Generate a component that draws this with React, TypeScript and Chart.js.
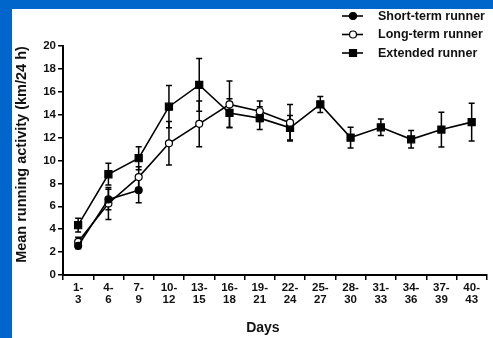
import React, { useEffect, useRef } from "react";
import { Chart, registerables } from "chart.js";

Chart.register(...registerables);

// ---- data ----
const categories = ["1-3", "4-6", "7-9", "10-12", "13-15", "16-18", "19-21", "22-24", "25-27", "28-30", "31-33", "34-36", "37-39", "40-43"];
const shortTerm = [2.55, 6.6, 7.4, null, null, null, null, null, null, null, null, null, null, null];
const shortErr = [0.25, 0.9, 1.1, null, null, null, null, null, null, null, null, null, null, null];
const longTerm = [2.9, 6.25, 8.55, 11.5, 13.2, 14.9, 14.3, 13.3, null, null, null, null, null, null];
const longErr = [0.4, 1.4, 0.9, 1.9, 2.0, 2.05, 0.9, 1.6, null, null, null, null, null, null];
const extended = [4.35, 8.8, 10.2, 14.7, 16.6, 14.15, 13.7, 12.85, 14.9, 12.0, 12.9, 11.85, 12.7, 13.35];
const extendedErr = [0.6, 0.95, 1.0, 1.85, 2.3, 1.25, 1.0, 1.07, 0.7, 0.9, 0.72, 0.76, 1.52, 1.65];
const seriesNames = ["Short-term runner", "Long-term runner", "Extended runner"];
const yTitle = "Mean running activity (km/24 h)";
const xTitle = "Days";

const FONT = "'Liberation Sans', Arial, Helvetica, sans-serif";
const INK = "#111";

const errorBarPlugin = {
  id: "errorBars",
  beforeDatasetsDraw(chart: any) {
    const ctx = chart.ctx;
    const xs = chart.scales.x;
    const ys = chart.scales.y;
    ctx.save();
    ctx.strokeStyle = "#000";
    ctx.lineWidth = 1.5;
    chart.data.datasets.forEach((ds: any) => {
      const errs = ds.errors as (number | null)[];
      if (!errs) return;
      ds.data.forEach((v: number | null, i: number) => {
        const e = errs[i];
        if (v == null || e == null) return;
        const x = xs.getPixelForValue(i);
        const yTop = ys.getPixelForValue(v + e);
        const yBot = ys.getPixelForValue(v - e);
        ctx.beginPath();
        ctx.moveTo(x, yTop);
        ctx.lineTo(x, yBot);
        ctx.moveTo(x - 3, yTop);
        ctx.lineTo(x + 3, yTop);
        ctx.moveTo(x - 3, yBot);
        ctx.lineTo(x + 3, yBot);
        ctx.stroke();
      });
    });
    ctx.restore();
  },
};

const decorPlugin = {
  id: "decor",
  afterDraw(chart: any) {
    const ctx = chart.ctx;
    const area = chart.chartArea;
    ctx.save();
    // y title
    ctx.fillStyle = INK;
    ctx.font = `bold 14.5px ${FONT}`;
    ctx.textAlign = "center";
    ctx.textBaseline = "middle";
    ctx.save();
    ctx.translate(9.5, 145.5);
    ctx.rotate(-Math.PI / 2);
    ctx.fillText(yTitle, 0, 0);
    ctx.restore();
    // x title
    ctx.font = `bold 14px ${FONT}`;
    ctx.fillText(xTitle, area.left + (area.right - area.left) / 2 - 12, 319);
    // legend
    const rowsY = [7, 25.5, 44];
    ctx.font = `bold 12.5px ${FONT}`;
    ctx.textAlign = "left";
    chart.data.datasets.forEach((ds: any, i: number) => {
      const y = rowsY[i];
      ctx.strokeStyle = "#000";
      ctx.lineWidth = 1.6;
      ctx.beginPath();
      ctx.moveTo(330, y);
      ctx.lineTo(351, y);
      ctx.stroke();
      ctx.fillStyle = ds.pointBackgroundColor;
      ctx.lineWidth = 1.2;
      ctx.beginPath();
      if (ds.pointStyle === "rect") {
        ctx.rect(341 - 3.5, y - 3.5, 7, 7);
      } else {
        ctx.arc(341, y, 3.5, 0, Math.PI * 2);
      }
      ctx.fill();
      ctx.stroke();
      ctx.fillStyle = INK;
      ctx.fillText(ds.label, 366, y + 0.5);
    });
    ctx.restore();
  },
};

export default function App() {
  const ref = useRef<HTMLCanvasElement>(null);

  useEffect(() => {
    const canvas = ref.current!;
    const chart = new Chart(canvas, {
      type: "line",
      data: {
        labels: categories,
        datasets: [
          {
            label: seriesNames[0],
            data: shortTerm,
            errors: shortErr,
            borderColor: "#000",
            borderWidth: 1.6,
            pointStyle: "circle",
            pointRadius: 3.5,
            pointBackgroundColor: "#000",
            pointBorderColor: "#000",
            pointBorderWidth: 1.2,
            spanGaps: false,
          } as any,
          {
            label: seriesNames[1],
            data: longTerm,
            errors: longErr,
            borderColor: "#000",
            borderWidth: 1.6,
            pointStyle: "circle",
            pointRadius: 3.5,
            pointBackgroundColor: "#fff",
            pointBorderColor: "#000",
            pointBorderWidth: 1.2,
            spanGaps: false,
          } as any,
          {
            label: seriesNames[2],
            data: extended,
            errors: extendedErr,
            borderColor: "#000",
            borderWidth: 1.6,
            pointStyle: "rect",
            pointRadius: 5,
            pointBackgroundColor: "#000",
            pointBorderColor: "#000",
            pointBorderWidth: 1.2,
            spanGaps: false,
          } as any,
        ],
      },
      options: {
        responsive: false,
        animation: false,
        devicePixelRatio: 1,
        layout: { padding: { left: 0, right: 5, top: 37, bottom: 0 } },
        plugins: { legend: { display: false }, tooltip: { enabled: false } },
        scales: {
          x: {
            type: "category",
            offset: true,
            afterFit: (s: any) => {
              s.height = 63;
            },
            grid: {
              display: true,
              drawOnChartArea: false,
              drawTicks: true,
              tickLength: 5,
              offset: true,
              color: "#000",
              lineWidth: 1.5,
            },
            border: { display: true, color: "#000", width: 2 },
            ticks: {
              autoSkip: false,
              maxRotation: 0,
              minRotation: 0,
              padding: 2,
              color: INK,
              font: { family: FONT, size: 11.5, weight: "bold", lineHeight: 1.05 },
              callback: (_v: any, i: number) => {
                const parts = categories[i].split("-");
                return [parts[0] + "-", parts[1]];
              },
            },
          },
          y: {
            min: 0,
            max: 20,
            afterFit: (s: any) => {
              s.width = 51;
            },
            grid: {
              display: true,
              drawOnChartArea: false,
              drawTicks: true,
              tickLength: 5,
              color: "#000",
              lineWidth: 1.5,
            },
            border: { display: true, color: "#000", width: 2 },
            ticks: {
              stepSize: 2,
              padding: 2,
              color: INK,
              font: { family: FONT, size: 11.5, weight: "bold" },
            },
          },
        },
      } as any,
      plugins: [errorBarPlugin, decorPlugin],
    });
    return () => chart.destroy();
  }, []);

  return (
    <div style={{ position: "fixed", left: 0, top: 0, width: 493, height: 338, background: "#0066cc", overflow: "hidden" }}>
      <div style={{ position: "absolute", left: 12, top: 9, width: 481, height: 329, background: "#fff" }}>
        <canvas ref={ref} width={481} height={329} style={{ display: "block", width: 481, height: 329 }} />
      </div>
    </div>
  );
}
